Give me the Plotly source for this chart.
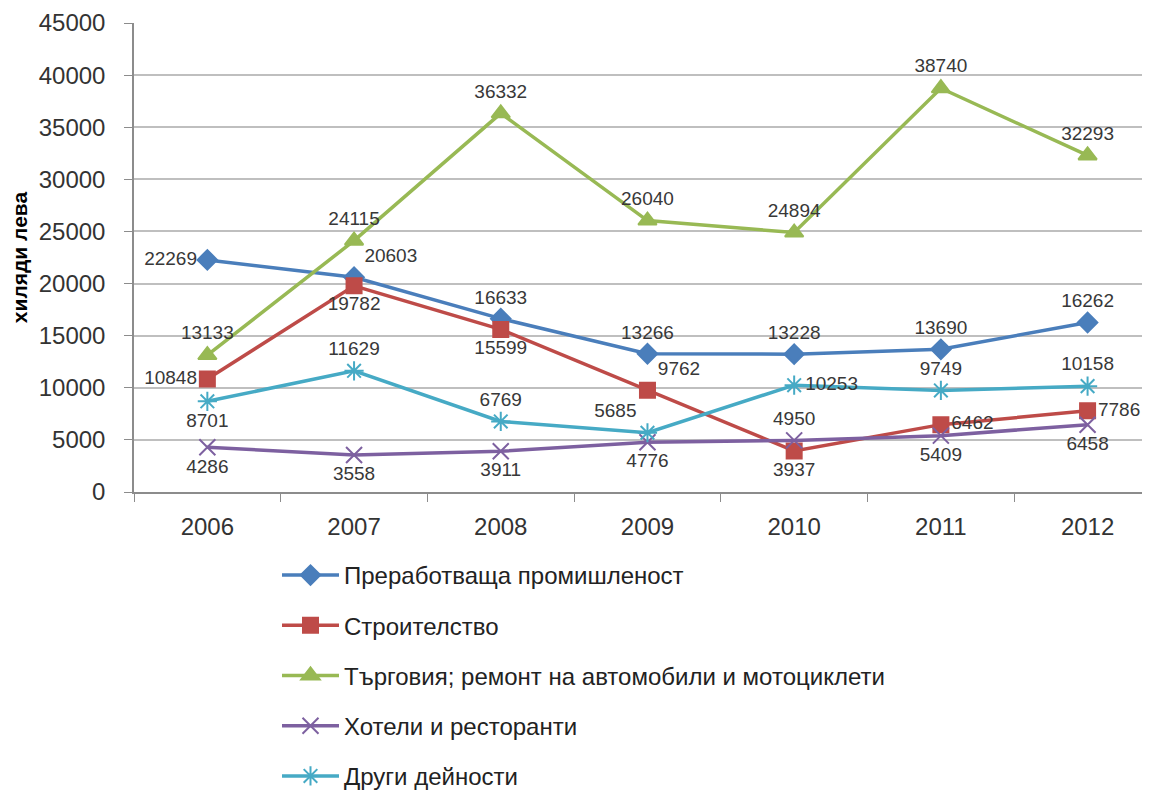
import plotly.graph_objects as go

years = ["2006", "2007", "2008", "2009", "2010", "2011", "2012"]
names = [
    "Преработваща промишленост",
    "Строителство",
    "Търговия; ремонт на автомобили и мотоциклети",
    "Хотели и ресторанти",
    "Други дейности",
]
manufacturing = [22269, 20603, 16633, 13266, 13228, 13690, 16262]
construction = [10848, 19782, 15599, 9762, 3937, 6462, 7786]
trade = [13133, 24115, 36332, 26040, 24894, 38740, 32293]
hotels = [4286, 3558, 3911, 4776, 4950, 5409, 6458]
other = [8701, 11629, 6769, 5685, 10253, 9749, 10158]
y_title = "хиляди лева"

series = [manufacturing, construction, trade, hotels, other]

colors = ["#4A7EBB", "#BE4B48", "#98B954", "#7D60A0", "#46AAC5"]
symbols = ["diamond", "square", "triangle-up", "x-thin-open", "asterisk-open"]
msizes = [15, 15, 16, 16, 16]
label_pos = [
    ["middle left", "top right", "top center", "top center", "top center", "top center", "top center"],
    ["middle left", "bottom center", "bottom center", "top right", "bottom center", "middle right", "middle right"],
    ["top center"] * 7,
    ["bottom center", "bottom center", "bottom center", "bottom center", "top center", "bottom center", "bottom center"],
    ["bottom center", "top center", "top center", "top left", "middle right", "top center", "top center"],
]

# plot area in pixels of the figure (page adds an 8px body margin)
L, T, W, H = 126, 15, 1150, 790
B = H - 484
pw, ph = W - L, H - T - B

fig = go.Figure()
for i, (nm, vals) in enumerate(zip(names, series)):
    fig.add_trace(go.Scatter(
        x=years, y=vals, name=nm, legendgroup=str(i),
        mode="lines+markers+text",
        text=[str(v) for v in vals],
        textposition=label_pos[i],
        textfont=dict(family="Liberation Sans, Arial", size=19, color="#383838"),
        line=dict(color=colors[i], width=3.5),
        marker=dict(symbol=symbols[i], size=msizes[i], color=colors[i],
                    line=dict(color=colors[i], width=2)),
        cliponaxis=False,
    ))

fig.update_layout(
    width=W, height=H,
    margin=dict(l=L, r=0, t=T, b=B, autoexpand=False),
    paper_bgcolor="white", plot_bgcolor="white",
    showlegend=True,
    legend=dict(
        x=(269 - L) / pw, y=(H - B - 545) / ph, xanchor="left", yanchor="top",
        font=dict(family="Liberation Sans, Arial", size=24, color="#222222"),
        itemwidth=57, tracegroupgap=16,
        bgcolor="rgba(0,0,0,0)",
    ),
    xaxis=dict(
        type="category", range=[-0.5, 6.48],
        tickson="boundaries", ticks="outside", ticklen=8, tickcolor="#8C8C8C",
        tickangle=0, ticklabelstandoff=12,
        showline=True, linecolor="#8C8C8C", linewidth=1.5,
        showgrid=False,
        tickfont=dict(family="Liberation Sans, Arial", size=24, color="#333333"),
    ),
    yaxis=dict(
        range=[0, 45000], dtick=5000, tickformat="d",
        ticks="outside", ticklen=8, tickcolor="#8C8C8C",
        ticklabelstandoff=14,
        showline=True, linecolor="#8C8C8C", linewidth=1.5,
        showgrid=True, gridcolor="#BFBFBF", gridwidth=1.5,
        zeroline=False,
        tickfont=dict(family="Liberation Sans, Arial", size=24, color="#333333"),
        title=dict(text=y_title, standoff=8,
                   font=dict(family="Liberation Sans, Arial", size=21, color="#000000", weight="bold")),
    ),
)

fig.write_html("out.html")
